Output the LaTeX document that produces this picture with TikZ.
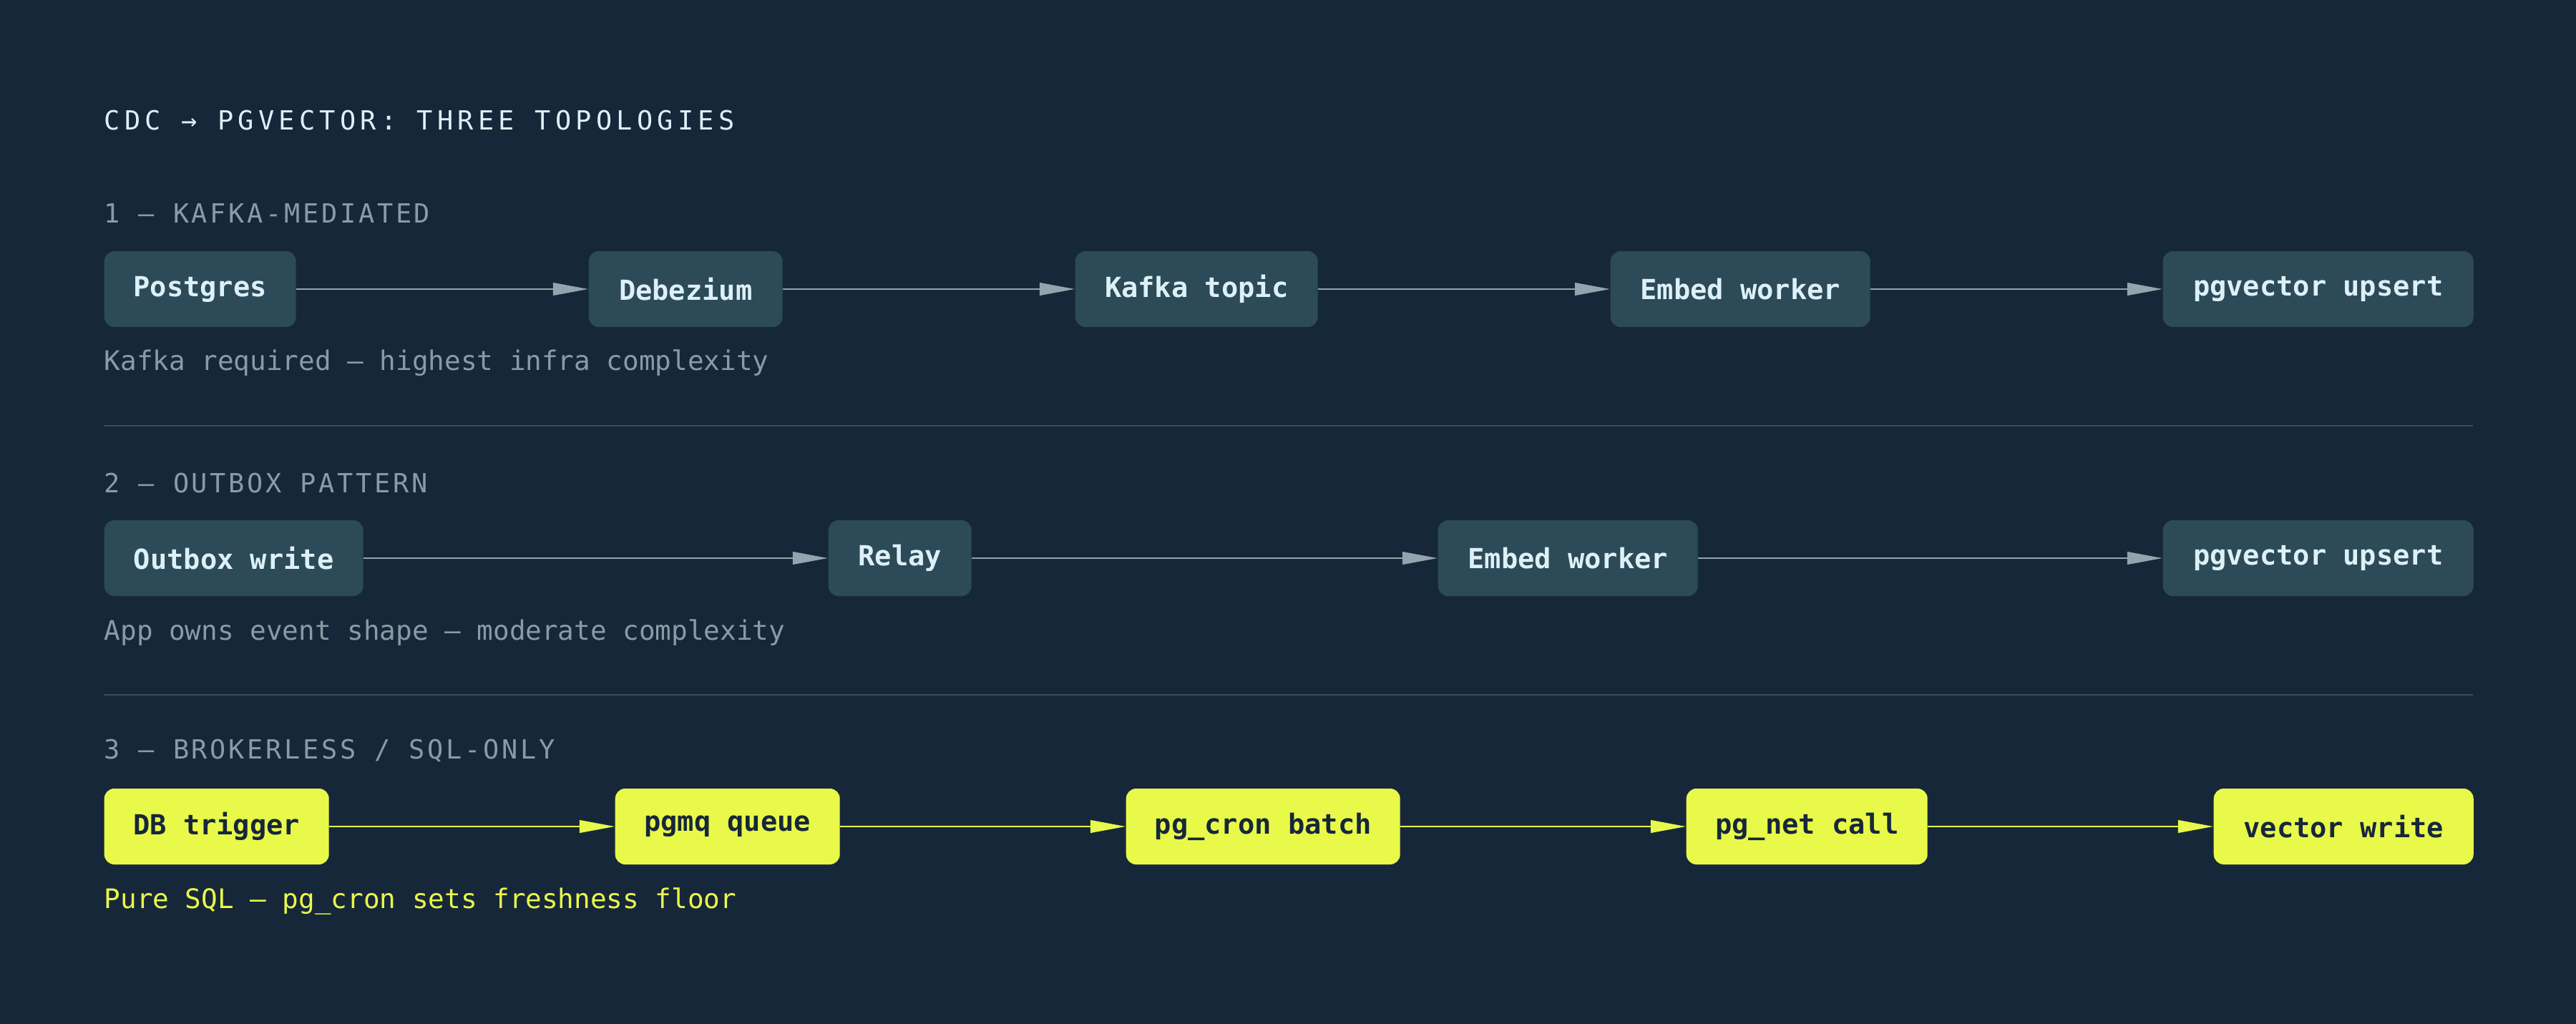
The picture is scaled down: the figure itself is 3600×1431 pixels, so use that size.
\documentclass[tikz,border=0pt]{standalone}
\usepackage{fontspec}
\setmonofont{DejaVu Sans Mono}
\newfontfamily\spacedmono[LetterSpace=17]{DejaVu Sans Mono}
\newfontfamily\secmono[LetterSpace=10]{DejaVu Sans Mono}
\usetikzlibrary{arrows.meta,positioning}
\definecolor{bgnavy}{HTML}{16273A}
\definecolor{boxteal}{HTML}{2C4A57}
\definecolor{boxtext}{HTML}{DDF0F8}
\definecolor{linegray}{HTML}{94A3AD}
\definecolor{labelgray}{HTML}{8A9BA6}
\definecolor{limey}{HTML}{E9F94A}
\definecolor{rulegray}{HTML}{3A4D5C}

\begin{document}
\begin{tikzpicture} [
  x=0.01cm, y=-0.01cm,
  stage/.style= {rounded corners=4pt,fill=boxteal,text=boxtext,font=\ttfamily\bfseries\fontsize{11}{13}\selectfont,
    minimum height=106*0.01cm,inner sep=0,anchor=west},
  sqlstage/.style= {stage,fill=limey,text=bgnavy},
  flow/.style={draw=linegray,line width=0.65pt,-{Triangle[length=14pt,width=5pt]}},
  sqlflow/.style={flow,draw=limey,-{Triangle[length=14pt,width=5pt,fill=limey]}},
  heading/.style={anchor=west,inner sep=0,text=labelgray,font=\secmono\fontsize{10.5}{12}\selectfont},
  note/.style={anchor=west,inner sep=0,text=labelgray,font=\ttfamily\fontsize{10.7}{12}\selectfont}
]
\fill[bgnavy] (0,0) rectangle (3600,1431);
\useasboundingbox (0,0) rectangle (3600,1431);

\node (title) [anchor=west,inner sep=0,text=boxtext,font=\spacedmono\fontsize{10.5}{12}\selectfont] at (145,168) {CDC → PGVECTOR: THREE TOPOLOGIES};

% 1 - kafka
\node (h1) [heading] at (145,298) {1 — KAFKA-MEDIATED};
\node (pg) [stage,minimum width=268*0.01cm] at (145,404) {Postgres};
\node (dbz) [stage,minimum width=271*0.01cm] at (822,404) {Debezium};
\node (kt) [stage,minimum width=339*0.01cm] at (1502,404) {Kafka topic};
\node (ew1) [stage,minimum width=363*0.01cm] at (2250,404) {Embed worker};
\node (pv1) [stage,minimum width=434*0.01cm] at (3022,404) {pgvector upsert};
\draw[flow] (pg) -- (dbz);
\draw[flow] (dbz) -- (kt);
\draw[flow] (kt) -- (ew1);
\draw[flow] (ew1) -- (pv1);
\node (n1) [note] at (145,507) {Kafka required — highest infra complexity};
\coordinate (s1a) at (145,595);
\coordinate (s1b) at (3456,595);
\draw[rulegray,line width=0.6pt] (s1a) -- (s1b);

% 2 - outbox
\node (h2) [heading] at (145,675) {2 — OUTBOX PATTERN};
\node (ob) [stage,minimum width=362*0.01cm] at (145,780) {Outbox write};
\node (rl) [stage,minimum width=200*0.01cm] at (1157,780) {Relay};
\node (ew2) [stage,minimum width=363*0.01cm] at (2009,780) {Embed worker};
\node (pv2) [stage,minimum width=434*0.01cm] at (3022,780) {pgvector upsert};
\draw[flow] (ob) -- (rl);
\draw[flow] (rl) -- (ew2);
\draw[flow] (ew2) -- (pv2);
\node (n2) [note] at (145,884) {App owns event shape — moderate complexity};
\coordinate (s2a) at (145,971);
\coordinate (s2b) at (3456,971);
\draw[rulegray,line width=0.6pt] (s2a) -- (s2b);

% 3 - brokerless
\node (h3) [heading] at (145,1049) {3 — BROKERLESS / SQL-ONLY};
\node (tr) [sqlstage,minimum width=314*0.01cm] at (145,1155) {DB trigger};
\node (mq) [sqlstage,minimum width=314*0.01cm] at (859,1155) {pgmq queue};
\node (cr) [sqlstage,minimum width=383*0.01cm] at (1573,1155) {pg\_cron batch};
\node (nc) [sqlstage,minimum width=337*0.01cm] at (2356,1155) {pg\_net call};
\node (vw) [sqlstage,minimum width=363*0.01cm] at (3093,1155) {vector write};
\draw[sqlflow] (tr) -- (mq);
\draw[sqlflow] (mq) -- (cr);
\draw[sqlflow] (cr) -- (nc);
\draw[sqlflow] (nc) -- (vw);
\node (n3) [note,text=limey] at (145,1260) {Pure SQL — pg\_cron sets freshness floor};
\end{tikzpicture}
\end{document}
